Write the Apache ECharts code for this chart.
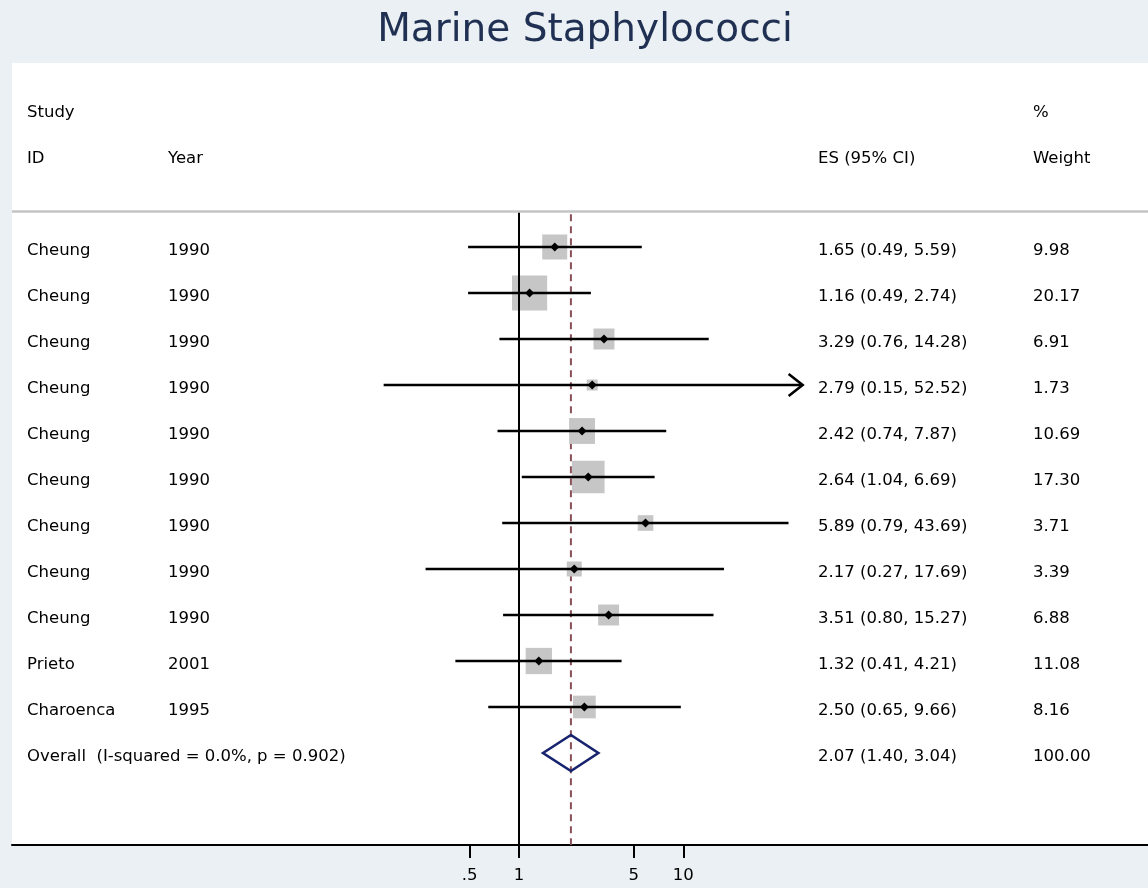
<!DOCTYPE html>
<html>
<head>
<meta charset="utf-8">
<script src="https://cdn.jsdelivr.net/npm/echarts@6/dist/echarts.min.js"></script>
<style>
html,body{margin:0;padding:0;background:#eaf0f3;}
#chart{width:1148px;height:888px;}
</style>
</head>
<body>
<div id="chart"></div>
<script>
// ---- data ----
const titleText = 'Marine Staphylococci';
const studyIds = ['Cheung','Cheung','Cheung','Cheung','Cheung','Cheung','Cheung','Cheung','Cheung','Prieto','Charoenca'];
const years = ['1990','1990','1990','1990','1990','1990','1990','1990','1990','2001','1995'];
const es = [1.65, 1.16, 3.29, 2.79, 2.42, 2.64, 5.89, 2.17, 3.51, 1.32, 2.50];
const ciLow = [0.49, 0.49, 0.76, 0.15, 0.74, 1.04, 0.79, 0.27, 0.80, 0.41, 0.65];
const ciHigh = [5.59, 2.74, 14.28, 52.52, 7.87, 6.69, 43.69, 17.69, 15.27, 4.21, 9.66];
const weights = [9.98, 20.17, 6.91, 1.73, 10.69, 17.30, 3.71, 3.39, 6.88, 11.08, 8.16];
const overallLabel = 'Overall  (I-squared = 0.0%, p = 0.902)';
const overallEs = 2.07, overallLow = 1.40, overallHigh = 3.04, overallWeight = 100.00;
const headerTop = ['Study', '', '', '%'];
const headerBottom = ['ID', 'Year', 'ES (95% CI)', 'Weight'];
const tickValues = [0.5, 1, 5, 10];
const tickLabels = ['.5', '1', '5', '10'];
const nullValue = 1;
const arrowLimit = 50;

// ---- layout ----
const FONT = '"DejaVu Sans", sans-serif';
const FS = 16.5;
const colX = [27, 168, 818, 1033];
const lg = v => Math.log10(v);
const nStudies = es.length;
const overallRow = nStudies;
const sepRow = -0.772;
const yMin = -4, yMax = 13;

const chart = echarts.init(document.getElementById('chart'));

const ciData = es.map((v, i) => [lg(ciLow[i]), lg(ciHigh[i]), i, lg(v), weights[i], ciHigh[i] > arrowLimit ? 1 : 0]);
const sqData = es.map((v, i) => [lg(v), i, weights[i]]);

function fmt(v){ return v.toFixed(2); }
const tableRows = [];
tableRows.push({row: -3, cells: headerTop});
tableRows.push({row: -2, cells: headerBottom});
for (let i = 0; i < nStudies; i++) {
  tableRows.push({row: i, cells: [studyIds[i], years[i], fmt(es[i]) + ' (' + fmt(ciLow[i]) + ', ' + fmt(ciHigh[i]) + ')', fmt(weights[i])]});
}
tableRows.push({row: overallRow, cells: [overallLabel, '', fmt(overallEs) + ' (' + fmt(overallLow) + ', ' + fmt(overallHigh) + ')', fmt(overallWeight)]});

const option = {
  backgroundColor: '#eaf0f3',
  animation: false,
  grid: {left: 12, right: 0, top: 63, bottom: 43, show: true, backgroundColor: '#ffffff', borderWidth: 0},
  xAxis: {
    type: 'value',
    min: (12 - 519) / 164.3,
    max: (1148 - 519) / 164.3,
    splitLine: {show: false},
    axisLine: {show: true, onZero: false, lineStyle: {color: '#000', width: 2}},
    axisTick: {show: true, customValues: tickValues.map(lg), length: 13, lineStyle: {color: '#000', width: 2}},
    axisLabel: {
      show: true, customValues: tickValues.map(lg), color: '#000', fontSize: 16.5, fontFamily: FONT, margin: 22,
      formatter: function (v) {
        let best = 0;
        tickValues.forEach((t, k) => { if (Math.abs(lg(t) - v) < Math.abs(lg(tickValues[best]) - v)) best = k; });
        return tickLabels[best];
      }
    }
  },
  yAxis: {type: 'value', min: yMin, max: yMax, inverse: true, show: false},
  graphic: [{
    type: 'text', x: 585, y: 31,
    style: {text: titleText, fill: '#1f3052', font: '39px ' + FONT, align: 'center', verticalAlign: 'middle'}
  }],
  series: [
    { // separator line
      type: 'custom', z: 1, silent: true,
      data: [[sepRow]],
      renderItem: function (params, api) {
        const y = api.coord([0, api.value(0)])[1];
        const cs = params.coordSys;
        return {type: 'line', shape: {x1: cs.x, y1: y, x2: cs.x + cs.width, y2: y}, style: {stroke: '#c4c4c4', lineWidth: 2.5}};
      }
    },
    { // overall dashed line
      type: 'custom', z: 2, silent: true,
      data: [[lg(overallEs), sepRow + 0.06, yMax]],
      renderItem: function (params, api) {
        const p1 = api.coord([api.value(0), api.value(1)]);
        const p2 = api.coord([api.value(0), api.value(2)]);
        return {type: 'line', shape: {x1: p1[0], y1: p1[1], x2: p2[0], y2: p2[1]}, style: {stroke: '#8a5058', lineWidth: 2, lineDash: [7, 5]}};
      }
    },
    { // weight squares
      type: 'custom', z: 3, silent: true,
      data: sqData,
      renderItem: function (params, api) {
        const c = api.coord([api.value(0), api.value(1)]);
        const s = 1 + 7.6 * Math.sqrt(api.value(2));
        return {type: 'rect', shape: {x: c[0] - s / 2, y: c[1] - s / 2, width: s, height: s}, style: {fill: '#c6c6c6'}};
      }
    },
    { // null line
      type: 'custom', z: 4, silent: true,
      data: [[lg(nullValue), sepRow + 0.03, yMax]],
      renderItem: function (params, api) {
        const p1 = api.coord([api.value(0), api.value(1)]);
        const p2 = api.coord([api.value(0), api.value(2)]);
        return {type: 'line', shape: {x1: p1[0], y1: p1[1], x2: p2[0], y2: p2[1]}, style: {stroke: '#000', lineWidth: 2}};
      }
    },
    { // confidence intervals + point markers
      type: 'custom', z: 5, silent: true,
      data: ciData,
      renderItem: function (params, api) {
        const row = api.value(2);
        const a = api.coord([api.value(0), row]);
        const b = api.coord([api.value(1), row]);
        const c = api.coord([api.value(3), row]);
        const d = 4.5;
        const children = [
          {type: 'line', shape: {x1: a[0], y1: a[1], x2: b[0], y2: b[1]}, style: {stroke: '#000', lineWidth: 2.6}},
          {type: 'polygon', shape: {points: [[c[0] - d, c[1]], [c[0], c[1] - d], [c[0] + d, c[1]], [c[0], c[1] + d]]}, style: {fill: '#000'}}
        ];
        if (api.value(5)) {
          children.push({type: 'polyline', shape: {points: [[b[0] - 13, b[1] - 11], [b[0] + 1, b[1]], [b[0] - 13, b[1] + 11]]}, style: {stroke: '#000', lineWidth: 2.6, fill: null}});
        }
        return {type: 'group', children: children};
      }
    },
    { // overall diamond
      type: 'custom', z: 6, silent: true,
      data: [[lg(overallLow), lg(overallHigh), overallRow, lg(overallEs)]],
      renderItem: function (params, api) {
        const row = api.value(2);
        const a = api.coord([api.value(0), row]);
        const b = api.coord([api.value(1), row]);
        const c = api.coord([api.value(3), row]);
        const h = 18;
        return {type: 'polygon', shape: {points: [[a[0], a[1]], [c[0], c[1] - h], [b[0], b[1]], [c[0], c[1] + h]]},
          style: {fill: 'none', stroke: '#17236e', lineWidth: 2.6}};
      }
    },
    { // table text
      type: 'custom', z: 7, silent: true,
      data: tableRows.map(r => [0, r.row]),
      renderItem: function (params, api) {
        const r = tableRows[params.dataIndex];
        const y = api.coord([0, api.value(1)])[1] + 3.5;
        const children = [];
        r.cells.forEach((t, k) => {
          if (!t) return;
          children.push({type: 'text', style: {x: colX[k], y: y, text: t, fill: '#000', font: FS + 'px ' + FONT, align: 'left', verticalAlign: 'middle'}});
        });
        return {type: 'group', children: children};
      }
    }
  ]
};
chart.setOption(option);
</script>
</body>
</html>
